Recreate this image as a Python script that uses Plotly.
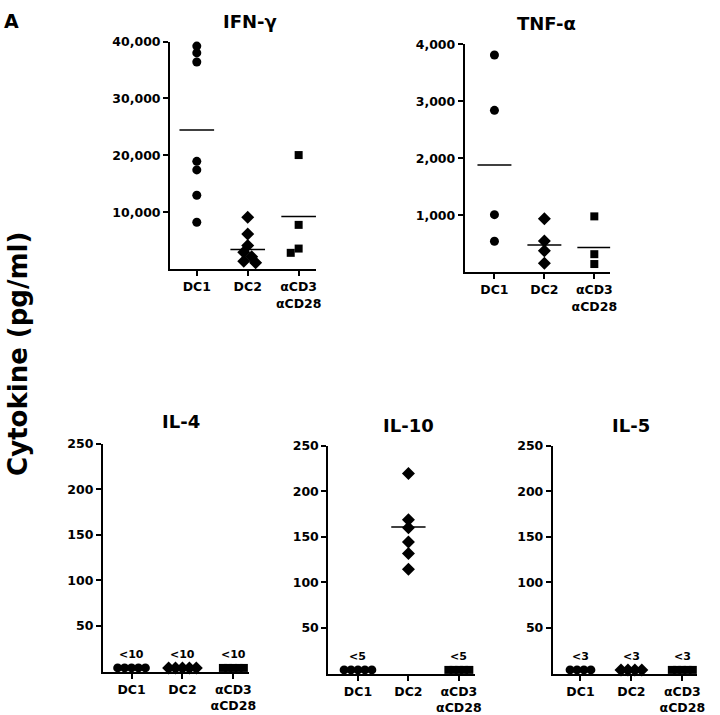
import plotly.graph_objects as go

W, H = 720, 715

categories = ["DC1", "DC2", "αCD3<br>αCD28"]
symbols = ["circle", "diamond", "square"]

# ---- IFN-gamma (pg/ml)
ifn_dc1 = [39200, 38000, 36400, 18960, 17450, 13000, 8270]
ifn_dc2 = [9130, 6190, 4160, 3000, 2200, 1390, 1160]
ifn_cd3 = [20060, 7800, 3640, 2890]
ifn_means = [24450, 3470, 9250]
ifn_ticks = [10000, 20000, 30000, 40000]

# ---- TNF-alpha (pg/ml)
tnf_dc1 = [3810, 2840, 1010, 543]
tnf_dc2 = [940, 548, 375, 156]
tnf_cd3 = [980, 317, 144]
tnf_means = [1880, 479, 433]
tnf_ticks = [1000, 2000, 3000, 4000]

# ---- IL-4 (all below detection limit, plotted at the floor)
il4_dc1 = [4, 4, 4, 4, 4]
il4_dc2 = [4, 4, 4, 4, 4]
il4_cd3 = [4, 4, 4, 4, 4]
il4_limits = ["<10", "<10", "<10"]

# ---- IL-10
il10_dc1 = [4, 4, 4, 4, 4]
il10_dc2 = [219.7, 168.7, 160, 144.5, 131.9, 114.5]
il10_cd3 = [4, 4, 4, 4, 4]
il10_means = [None, 161, None]
il10_limits = ["<5", None, "<5"]

# ---- IL-5
il5_dc1 = [4, 4, 4, 4]
il5_dc2 = [4, 4, 4, 4]
il5_cd3 = [4, 4, 4, 4, 4]
il5_limits = ["<3", "<3", "<3"]

small_ticks = [50, 100, 150, 200, 250]

panels = [
    dict(title="IFN-γ", groups=[ifn_dc1, ifn_dc2, ifn_cd3], means=ifn_means, limits=[None]*3,
         ymax=40000, ticks=ifn_ticks, box=(172, 320, 34, 265), cat0=199, step=51.5,
         title_px=(253, 14)),
    dict(title="TNF-α", groups=[tnf_dc1, tnf_dc2, tnf_cd3], means=tnf_means, limits=[None]*3,
         ymax=4000, ticks=tnf_ticks, box=(470, 617, 36.7, 268), cat0=500, step=50.5,
         title_px=(553, 16)),
    dict(title="IL-4", groups=[il4_dc1, il4_dc2, il4_cd3], means=[None]*3, limits=il4_limits,
         ymax=250, ticks=small_ticks, box=(104, 252, 441.7, 673), cat0=133, step=51.5,
         title_px=(183, 419)),
    dict(title="IL-10", groups=[il10_dc1, il10_dc2, il10_cd3], means=il10_means, limits=il10_limits,
         ymax=250, ticks=small_ticks, box=(332, 480, 444, 675), cat0=362, step=51,
         title_px=(413, 423)),
    dict(title="IL-5", groups=[il5_dc1, il5_dc2, il5_cd3], means=[None]*3, limits=il5_limits,
         ymax=250, ticks=small_ticks, box=(559, 705, 444, 675), cat0=587, step=51.5,
         title_px=(638, 423)),
]

FONT = "DejaVu Sans, Liberation Sans, Arial, sans-serif"
marker_size = {"circle": 9, "diamond": 10, "square": 8}
row_spacing = {"circle": 7, "diamond": 7, "square": 5.3}


def px_x(px):
    return px / W


def px_y(py):
    return (H - py) / H


def swarm(values, px_per_y, min_d=6.8, step=4.0):
    placed, offs = [], []
    for v in values:
        y = v * px_per_y
        dx = 0.0
        for k in [0, -1, 1, -2, 2, -3, 3]:
            dx = k * step
            if all((dx - px) ** 2 + (y - py) ** 2 >= min_d ** 2 for px, py in placed):
                break
        placed.append((dx, y))
        offs.append(dx)
    return offs


fig = go.Figure()
annotations = []

for i, p in enumerate(panels):
    n = i + 1
    sfx = "" if n == 1 else str(n)
    x0, x1, ytop, ybot = p["box"]
    step = p["step"]
    xr = [(x0 - p["cat0"]) / step, (x1 - p["cat0"]) / step]
    px_per_y = (ybot - ytop) / p["ymax"]

    for g, vals in enumerate(p["groups"]):
        sym = symbols[g]
        if len(set(vals)) == 1:
            m = len(vals)
            offs = [(j - (m - 1) / 2) * row_spacing[sym] for j in range(m)]
        else:
            offs = swarm(vals, px_per_y)
        xs = [g + o / step for o in offs]
        fig.add_trace(go.Scatter(
            x=xs, y=vals, mode="markers", xaxis="x" + sfx, yaxis="y" + sfx,
            marker=dict(symbol=sym, size=marker_size[sym], color="black", line=dict(width=0)),
            cliponaxis=False, showlegend=False, hoverinfo="y"))
        mval = p["means"][g]
        if mval is not None:
            hw = 0.34
            fig.add_trace(go.Scatter(
                x=[g - hw, g + hw], y=[mval, mval], mode="lines",
                xaxis="x" + sfx, yaxis="y" + sfx,
                line=dict(color="black", width=1.5), showlegend=False, hoverinfo="skip"))
        lim = p["limits"][g]
        if lim is not None:
            annotations.append(dict(
                x=g, y=vals[0], xref="x" + sfx, yref="y" + sfx, text=lim, showarrow=False,
                yshift=13, font=dict(family=FONT, size=11, color="black", weight="bold")))

    fig.update_layout(**{
        "xaxis" + sfx: dict(
            domain=[px_x(x0), px_x(x1)], range=xr, anchor="y" + sfx,
            tickmode="array", tickvals=[0, 1, 2], ticktext=categories,
            showline=True, linecolor="black", linewidth=2, ticks="outside",
            ticklen=5, tickwidth=1.5, tickcolor="black", showgrid=False, zeroline=False,
            tickfont=dict(family=FONT, size=12.5, color="black", weight="bold")),
        "yaxis" + sfx: dict(
            domain=[px_y(ybot), px_y(ytop)], range=[0, p["ymax"]], anchor="x" + sfx,
            tickmode="array", tickvals=p["ticks"], tickformat=",",
            showline=True, linecolor="black", linewidth=2, ticks="outside",
            ticklen=5, tickwidth=1.5, tickcolor="black", showgrid=False, zeroline=False,
            tickfont=dict(family=FONT, size=12.5, color="black", weight="bold")),
    })

    tx, ty = p["title_px"]
    annotations.append(dict(
        x=px_x(tx), y=px_y(ty), xref="paper", yref="paper", text=p["title"],
        showarrow=False, xanchor="center", yanchor="middle",
        font=dict(family=FONT, size=18, color="black", weight="bold")))

annotations.append(dict(
    x=px_x(18), y=px_y(351), xref="paper", yref="paper", text="Cytokine (pg/ml)",
    textangle=-90, showarrow=False, xanchor="center", yanchor="middle",
    font=dict(family=FONT, size=26, color="black", weight="bold")))
annotations.append(dict(
    x=px_x(12), y=px_y(13), xref="paper", yref="paper", text="A",
    showarrow=False, xanchor="center", yanchor="middle",
    font=dict(family=FONT, size=19, color="black", weight="bold")))

fig.update_layout(
    width=W, height=H, margin=dict(l=0, r=0, t=0, b=0),
    paper_bgcolor="white", plot_bgcolor="white",
    annotations=annotations, showlegend=False)

fig.write_html("out.html", config={"displayModeBar": False},
               post_script="document.body.style.margin='0';")
